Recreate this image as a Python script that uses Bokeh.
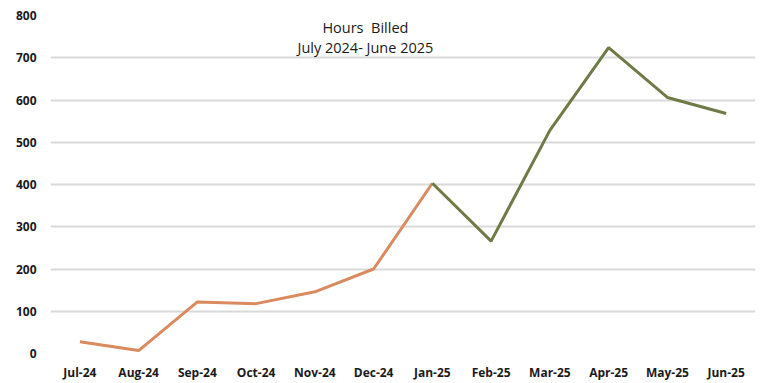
from bokeh.plotting import figure
from bokeh.models import Label, Range1d, FactorRange, FixedTicker
from bokeh.embed import file_html
from bokeh.resources import INLINE

months = ["Jul-24", "Aug-24", "Sep-24", "Oct-24", "Nov-24", "Dec-24",
          "Jan-25", "Feb-25", "Mar-25", "Apr-25", "May-25", "Jun-25"]
hours = [28, 7, 122, 118, 146, 200, 403, 266, 528, 724, 606, 568]
title_lines = ["Hours\u00a0 Billed", "July 2024- June 2025"]
y_ticks = [0, 100, 200, 300, 400, 500, 600, 700, 800]

split = months.index("Jan-25")
first_x, first_y = months[:split + 1], hours[:split + 1]
second_x, second_y = months[split:], hours[split:]

FONT = "Open Sans"

p = figure(width=761, height=383, x_range=FactorRange(*months),
           y_range=Range1d(0, 800), output_backend="svg",
           toolbar_location=None, tools="")
p.min_border_left = 50
p.min_border_right = 6
p.min_border_top = 15
p.min_border_bottom = 29
p.outline_line_color = None
p.background_fill_color = "white"
p.border_fill_color = "white"

p.line(first_x, first_y, line_color="#D98A5E", line_width=3)
p.line(second_x, second_y, line_color="#6E7B47", line_width=3)

p.xgrid.grid_line_color = None
p.ygrid.grid_line_color = "#D9D9D9"
p.ygrid.grid_line_width = 2
p.yaxis.ticker = FixedTicker(ticks=y_ticks)

for ax in (p.xaxis[0], p.yaxis[0]):
    ax.axis_line_color = None
    ax.major_tick_line_color = None
    ax.minor_tick_line_color = None
    ax.major_tick_out = 0
    ax.major_tick_in = 0
    ax.minor_tick_out = 0
    ax.major_label_text_font = FONT
    ax.major_label_text_font_size = "12px"
    ax.major_label_text_color = "#1a1a1a"
    ax.major_label_text_font_style = "bold"
p.yaxis.major_label_standoff = 14
p.xaxis.major_label_standoff = 10

for txt, yv in zip(title_lines, [771, 724]):
    p.add_layout(Label(x=5.36, y=yv, text=txt, text_align="center",
                       text_baseline="middle", text_font=FONT,
                       text_font_size="14.5px", text_color="#1a1a1a"))

open("out.html", "w").write(file_html(p, INLINE))
